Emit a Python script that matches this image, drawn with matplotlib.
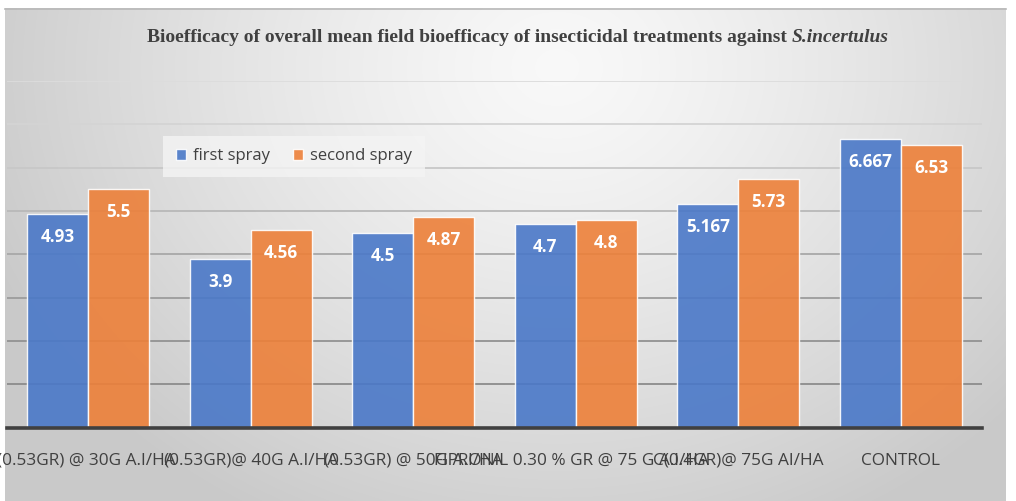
import numpy as np
import matplotlib
matplotlib.use('Agg')
import matplotlib.pyplot as plt

# Data
treatments = ['(0.53GR) @ 30G A.I/HA ', '(0.53GR)@ 40G A.I/HA', '(0.53GR) @ 50G A.I/HA',
              'FIPRONIL 0.30 % GR @ 75 G A.I/HA  ', 'C(0.4GR)@ 75G AI/HA', 'CONTROL']
first_spray = [4.93, 3.9, 4.5, 4.7, 5.167, 6.667]
second_spray = [5.5, 4.56, 4.87, 4.8, 5.73, 6.53]
first_labels = ['4.93', '3.9', '4.5', '4.7', '5.167', '6.667']
second_labels = ['5.5', '4.56', '4.87', '4.8', '5.73', '6.53']

W, H = 1016, 501
fig = plt.figure(figsize=(W / 100, H / 100), dpi=100)
fig.patch.set_facecolor('white')

# Gray radial-gradient background panel
bg = fig.add_axes([0, 0, 1, 1], zorder=0)
bg.set_xlim(0, W)
bg.set_ylim(H, 0)
bg.axis('off')
xx, yy = np.meshgrid(np.arange(W), np.arange(H))
r = np.sqrt(((xx - 560) / 620.0) ** 2 + ((yy - 60) / 520.0) ** 2)
shade = 0.975 - 0.185 * np.clip(r, 0, 1) ** 1.3
img = np.dstack([shade, shade, shade])
bg.imshow(img, extent=(5, 1006, 501, 8), aspect='auto', interpolation='bilinear')
bg.plot([5, 1006], [8.5, 8.5], color='#b8b8b8', lw=1.2)

ax = fig.add_axes([7 / W, (H - 427.7) / H, 975 / W, 346.7 / H], zorder=1)
ax.patch.set_alpha(0)

x = np.arange(len(treatments))
bw = 0.375
b1 = ax.bar(x - bw / 2, first_spray, bw, color='#4a78c8', alpha=0.9,
            edgecolor=(1, 1, 1, 0.55), linewidth=1, label='first spray', zorder=3)
b2 = ax.bar(x + bw / 2, second_spray, bw, color='#ed8039', alpha=0.9,
            edgecolor=(1, 1, 1, 0.55), linewidth=1, label='second spray', zorder=3)

for bars, labels in ((b1, first_labels), (b2, second_labels)):
    for rect, lab in zip(bars, labels):
        ax.annotate(lab, (rect.get_x() + rect.get_width() / 2, rect.get_height()),
                    xytext=(0, -23), textcoords='offset pixels', ha='center', va='center',
                    color='white', fontsize=12.3, fontweight='bold', family='Open Sans', zorder=5)

ax.set_xlim(-0.5, len(treatments) - 0.5)
ax.set_ylim(0, 8)
ax.set_yticks(np.arange(1, 9))
ax.set_yticklabels([])
ax.tick_params(axis='y', length=0)
ax.yaxis.grid(True, linewidth=1.3, zorder=1)
grid_cols = ['#8c8c8c', '#929292', '#9c9c9c', '#a8a8a8', '#b8b8b8', '#c8c8c8', '#d4d4d4', '#dcdcdc']
for gl, c in zip(ax.get_ygridlines(), grid_cols):
    gl.set_color(c)
ax.set_axisbelow(True)
for s in ('top', 'right', 'left'):
    ax.spines[s].set_visible(False)
ax.spines['bottom'].set_color('#404040')
ax.spines['bottom'].set_linewidth(2.6)
ax.spines['bottom'].set_zorder(4)

ax.set_xticks(x)
ax.set_xticklabels(treatments, fontsize=12.4, family='Open Sans', color='#404040')
ax.tick_params(axis='x', length=0, pad=18)

leg = ax.legend(loc='upper left', bbox_to_anchor=(156 / 975, (427.7 - 136) / 346.7), ncol=2,
                frameon=True, fancybox=False, edgecolor='none', facecolor='#f4f4f4', framealpha=0.8,
                prop={'family': 'Open Sans', 'size': 12}, handlelength=0.6, handleheight=0.6,
                handletextpad=0.45, columnspacing=1.35, borderpad=0.75, borderaxespad=0,
                labelcolor='#404040')

# Title: bold part plus bold-italic species name, centred as a whole
fig.canvas.draw()
rend = fig.canvas.get_renderer()
t1 = fig.text(0, 0, 'Bioefficacy of overall mean field bioefficacy of insecticidal treatments against ',
              family='Liberation Serif', fontweight='bold', fontsize=14, color='#404040', va='center')
t2 = fig.text(0, 0, 'S.incertulus', family='Liberation Serif', fontweight='bold', style='italic',
              fontsize=14, color='#404040', va='center')
w1 = t1.get_window_extent(rend).width
w2 = t2.get_window_extent(rend).width
x0 = 518 - (w1 + w2) / 2
ty = 1 - 38 / H
t1.set_position((x0 / W, ty))
t2.set_position(((x0 + w1) / W, ty))

fig.savefig('out.png', dpi=100)
